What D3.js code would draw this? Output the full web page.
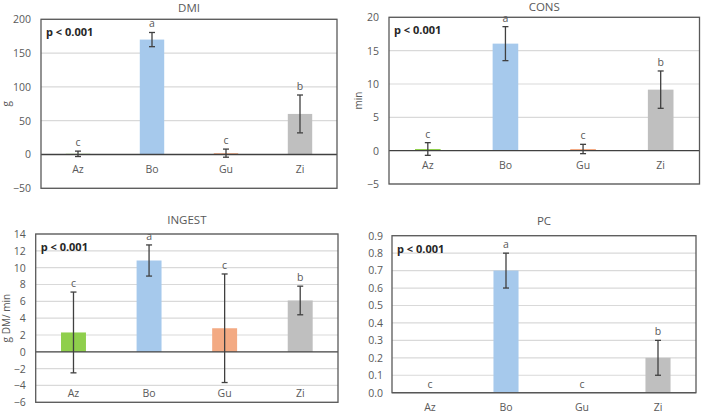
<!DOCTYPE html>
<html><head><meta charset="utf-8">
<script src="https://cdn.jsdelivr.net/npm/d3@7"></script>
<style>
body{margin:0;background:#fff;}
svg{display:block;font-family:"Open Sans","Liberation Sans",sans-serif;}
</style></head>
<body><svg id="c" width="702" height="413"></svg>
<script>
const categories = ["Az","Bo","Gu","Zi"];
const colors = ["#8fcf4c","#a6c9ec","#f3aa83","#bfbfbf"];

const dmiValues = [1, 170, 2, 60];
const dmiErrors = [4, 10.5, 6, 28];
const dmiLetters = ["c","a","c","b"];
const dmiTicks = [-50, 0, 50, 100, 150, 200];

const consValues = [0.25, 16.05, 0.25, 9.15];
const consErrors = [0.95, 2.55, 0.7, 2.8];
const consLetters = ["c","a","c","b"];
const consTicks = [-5, 0, 5, 10, 15, 20];

const ingestValues = [2.3, 10.85, 2.8, 6.1];
const ingestErrors = [4.8, 1.85, 6.45, 1.7];
const ingestLetters = ["c","a","c","b"];
const ingestTicks = [-6, -4, -2, 0, 2, 4, 6, 8, 10, 12, 14];

const pcValues = [0, 0.7, 0, 0.2];
const pcErrors = [0, 0.1, 0, 0.1];
const pcLetters = ["c","a","c","b"];
const pcTicks = [0, 0.1, 0.2, 0.3, 0.4, 0.5, 0.6, 0.7, 0.8, 0.9];

const pText = "p < 0.001";

const svg = d3.select("#c");

function panel(cfg){
  const g = svg.append("g");
  const x = d3.scaleBand().domain(categories).range([cfg.left, cfg.right]).paddingInner(0.67).paddingOuter(0.335);
  const y = d3.scaleLinear().domain([cfg.ticks[0], cfg.ticks[cfg.ticks.length-1]]).range([cfg.bottom, cfg.top]);
  g.selectAll("line.grid").data(cfg.ticks.filter(t => t !== 0)).join("line")
    .attr("x1", cfg.left).attr("x2", cfg.right)
    .attr("y1", d => y(d)).attr("y2", d => y(d))
    .attr("stroke", "#d9d9d9").attr("stroke-width", 1.2);
  const ax = g.append("g").attr("transform", `translate(${cfg.left},0)`)
    .call(d3.axisLeft(y).tickValues(cfg.ticks).tickSize(0).tickPadding(cfg.tickPad).tickFormat(d3.format(cfg.fmt)));
  ax.select(".domain").remove();
  ax.selectAll("text").attr("fill", "#595959").style("font-size", "10.5px").style("font-family", "'Open Sans','Liberation Sans',sans-serif");
  const vals = cfg.values;
  g.selectAll("rect.bar").data(categories).join("rect")
    .attr("x", d => x(d)).attr("width", x.bandwidth())
    .attr("y", (d,i) => y(Math.max(0, vals[i])))
    .attr("height", (d,i) => Math.abs(y(vals[i]) - y(0)))
    .attr("fill", (d,i) => colors[i]);
  g.append("line").attr("x1", cfg.left).attr("x2", cfg.right)
    .attr("y1", y(0)).attr("y2", y(0)).attr("stroke", "#404040").attr("stroke-width", 1.3);
  g.append("rect").attr("x", cfg.left).attr("y", cfg.top)
    .attr("width", cfg.right - cfg.left).attr("height", cfg.bottom - cfg.top)
    .attr("fill", "none").attr("stroke", "#595959").attr("stroke-width", 1.3);
  categories.forEach((c,i) => {
    const e = cfg.errors[i];
    if (e <= 0) return;
    const cx = x(c) + x.bandwidth()/2;
    const y1 = y(vals[i] + e), y2 = y(vals[i] - e);
    g.append("line").attr("x1", cx).attr("x2", cx).attr("y1", y1).attr("y2", y2).attr("stroke", "#404040").attr("stroke-width", 1.3);
    [y1, y2].forEach(yy => g.append("line").attr("x1", cx-3).attr("x2", cx+3).attr("y1", yy).attr("y2", yy).attr("stroke", "#404040").attr("stroke-width", 1.3));
  });
  g.selectAll("text.letter").data(categories).join("text")
    .attr("x", d => x(d) + x.bandwidth()/2)
    .attr("y", (d,i) => y(vals[i] + cfg.errors[i]) - cfg.letterGap)
    .attr("text-anchor", "middle").attr("fill", "#595959").style("font-size", "10.5px")
    .text((d,i) => cfg.letters[i]);
  g.selectAll("text.cat").data(categories).join("text")
    .attr("x", d => x(d) + x.bandwidth()/2)
    .attr("y", cfg.catY !== undefined ? cfg.catY : y(0) + 18)
    .attr("text-anchor", "middle").attr("fill", "#595959").style("font-size", "10.5px")
    .text(d => d);
  g.append("text").attr("x", (cfg.left + cfg.right)/2).attr("y", cfg.titleY)
    .attr("text-anchor", "middle").attr("fill", "#595959").style("font-size", "11.5px").text(cfg.title);
  if (cfg.ylabel) {
    g.append("text").attr("transform", `translate(${cfg.ylabelX},${(cfg.top+cfg.bottom)/2}) rotate(-90)`)
      .attr("text-anchor", "middle").attr("fill", "#595959").style("font-size", "10px").text(cfg.ylabel);
  }
  g.append("text").attr("x", cfg.left + 5).attr("y", cfg.top + 17)
    .attr("fill", "#262626").style("font-size", "11px").style("font-weight", "bold").text(pText);
}

panel({title:"DMI", ylabel:"g", ylabelX:10, left:41, right:337, top:19.3, bottom:188.3,
  ticks:dmiTicks, fmt:"d", tickPad:10, values:dmiValues, errors:dmiErrors, letters:dmiLetters, letterGap:5, titleY:12});
panel({title:"CONS", ylabel:"min", ylabelX:362, left:389, right:699.5, top:17.3, bottom:184,
  ticks:consTicks, fmt:"d", tickPad:10, values:consValues, errors:consErrors, letters:consLetters, letterGap:5, titleY:11});
panel({title:"INGEST", ylabel:"g DM/ min", ylabelX:10, left:35.7, right:338, top:234, bottom:402.3,
  ticks:ingestTicks, fmt:"d", tickPad:10, values:ingestValues, errors:ingestErrors, letters:ingestLetters, letterGap:5, titleY:224, catY:396.5});
panel({title:"PC", left:392, right:696, top:235.7, bottom:392.7,
  ticks:pcTicks, fmt:".1f", tickPad:9, values:pcValues, errors:pcErrors, letters:pcLetters, letterGap:5, titleY:225});
</script></body></html>
